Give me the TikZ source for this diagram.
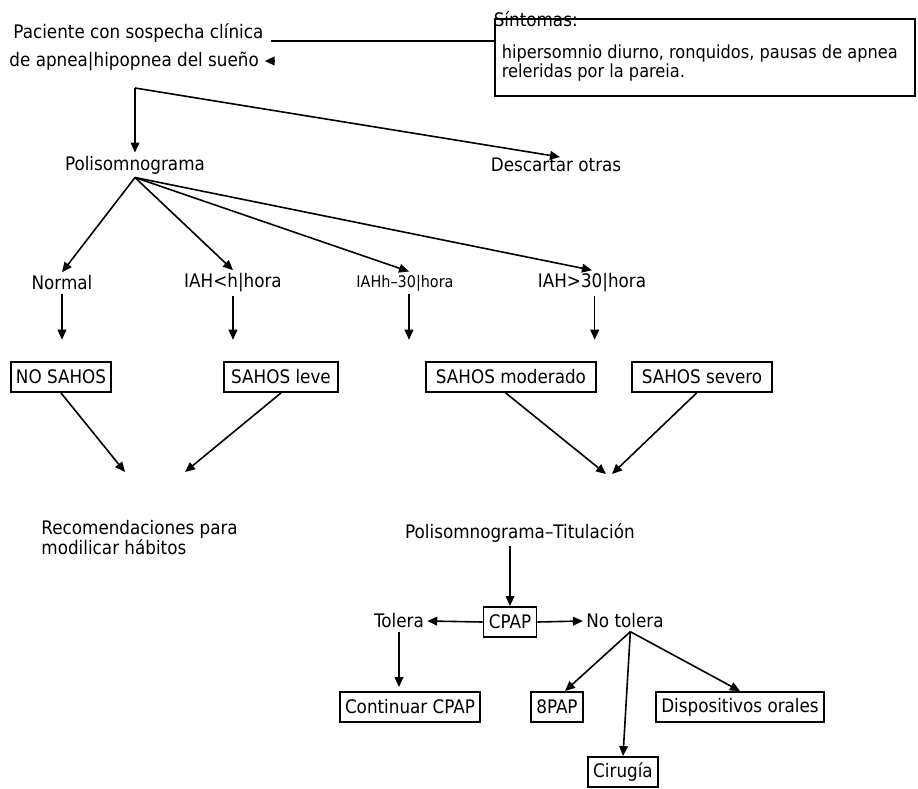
\documentclass[tikz,border=0pt]{standalone}
\usepackage{fontspec}
\setmainfont{DejaVu Sans Condensed}
\usepackage{tikz}
\usetikzlibrary{arrows.meta}

\begin{document}
\begin{tikzpicture}[x=0.75pt,y=0.75pt,yscale=-1,xscale=1,
  line width=1.2pt,
  font=\fontsize{14}{16}\selectfont,
  arr/.style={-{Triangle[length=7.5pt,width=6.5pt]}},
  box/.style={draw,line width=1.4pt,inner xsep=4pt,minimum height=22.5pt},
  txt/.style={inner sep=2pt}]
\useasboundingbox (0,0) rectangle (918,789);

% Text Node
\node (pac) [txt,anchor=west] at (10,33) {Paciente con sospecha clínica};
% Text Node
\node (apnea) [txt,anchor=west] at (6,61) {de apnea|hipopnea del sueño};
%Shape: Rectangle
\node (sintbox) [draw,line width=1.4pt,anchor=north west,minimum width=315pt,minimum height=57.75pt] at (494,18) {};
% Text Node
\node (sint) [txt,anchor=west,inner sep=0pt] at (493,19) {Síntomas:};
% Text Node
\node (sinttxt) [txt,anchor=north west,align=left,inner sep=0pt,font=\fontsize{13.5}{11.5}\selectfont] at (501,44) {hipersomnio diurno, ronquidos, pausas de apnea\\releridas por la pareia.};
%Straight Lines
\coordinate (elbow) at (271,41);
\draw (sintbox.west |- elbow) -- (elbow) ;
\draw [arr] ([xshift=2pt]elbow |- apnea.east) -- ++(-9,0) coordinate (apneain) ;

\coordinate (split) at (135,88);
% Text Node
\node (poli) [txt] at (135,165) {Polisomnograma};
% Text Node
\node (desc) [txt] at (556,165) {Descartar otras};
%Straight Lines
\draw [arr] (split) -- (poli.north) ;
\draw [arr] (split) -- (560,157) coordinate (descin) ;

% Text Node
\node (normal) [txt] at (62,283) {Normal};
% Text Node
\node (iaha) [txt] at (233,283) {IAH<h|hora};
% Text Node
\node (iahb) [txt,font=\fontsize{12}{14}\selectfont] at (405,283) {IAHh–30|hora};
% Text Node
\node (iahc) [txt] at (592,283) {IAH>30|hora};
%Straight Lines
\draw [arr] (poli.south) -- (normal.north) ;
\draw [arr] (poli.south) -- (iaha.north) ;
\draw [arr] (poli.south) -- ([xshift=3pt]iahb.north) ;
\draw [arr] (poli.south) -- (iahc.north) ;

% Boxes
\node (nosahos) [box] at (61,377) {NO SAHOS};
\node (leve) [box,minimum width=85pt] at (281,377) {SAHOS leve};
\node (mod) [box,minimum width=127pt] at (511,377) {SAHOS moderado};
\node (sev) [box,minimum width=105pt] at (702,377) {SAHOS severo};
%Straight Lines
\draw [arr,shorten >=16pt] (normal.south) -- (normal.south |- nosahos.north) ;
\draw [arr,shorten >=16pt] (iaha.south) -- (iaha.south |- leve.north) ;
\draw [arr,shorten >=16pt] ([xshift=3pt]iahb.south) -- ([xshift=3pt]iahb.south |- mod.north) ;
\draw [arr,shorten >=16pt] ([xshift=2pt]iahc.south) -- ([xshift=2pt]iahc.south |- sev.north) ;

% Text Node
\node (recom) [txt,anchor=north west,align=left,font=\fontsize{14}{13.5}\selectfont] at (38,517) {Recomendaciones para\\modilicar hábitos};
\coordinate (reca) at (125,472);
\coordinate (recb) at (185,472);
\draw [arr] (nosahos.south) -- (reca) ;
\draw [arr] (leve.south) -- (recb) ;

% Text Node
\node (titul) [txt] at (520,533) {Polisomnograma–Titulación};
\coordinate (tita) at (606,474);
\coordinate (titb) at (612,474);
\draw [arr] ([xshift=-4pt]mod.south) -- (tita) ;
\draw [arr] ([xshift=-4pt]sev.south) -- (titb) ;

% CPAP
\node (cpap) [box] at (510,622) {CPAP};
\draw [arr] (titul.south -| cpap.north) -- (cpap.north) ;
% Text Node
\node (tolera) [txt] at (399,621) {Tolera};
% Text Node
\node (notol) [txt] at (625,621) {No tolera};
\draw [arr] (cpap.west) -- (tolera.east) ;
\draw [arr] (cpap.east) -- (notol.west) ;

% Boxes
\node (cont) [box] at (410,707) {Continuar CPAP};
\node (pap) [box] at (557,707) {8PAP};
\node (disp) [box] at (740,707) {Dispositivos orales};
\node (cir) [box] at (623,772) {Cirugía};
%Straight Lines
\draw [arr,shorten >=3pt] (tolera.south) -- (tolera.south |- cont.north) ;
\draw [arr] ([xshift=4pt]notol.south) -- ([xshift=6pt]pap.north) ;
\draw [arr] ([xshift=4pt]notol.south) -- (cir.north) ;
\draw [arr] ([xshift=4pt]notol.south) -- (disp.north) ;

\end{tikzpicture}
\end{document}
